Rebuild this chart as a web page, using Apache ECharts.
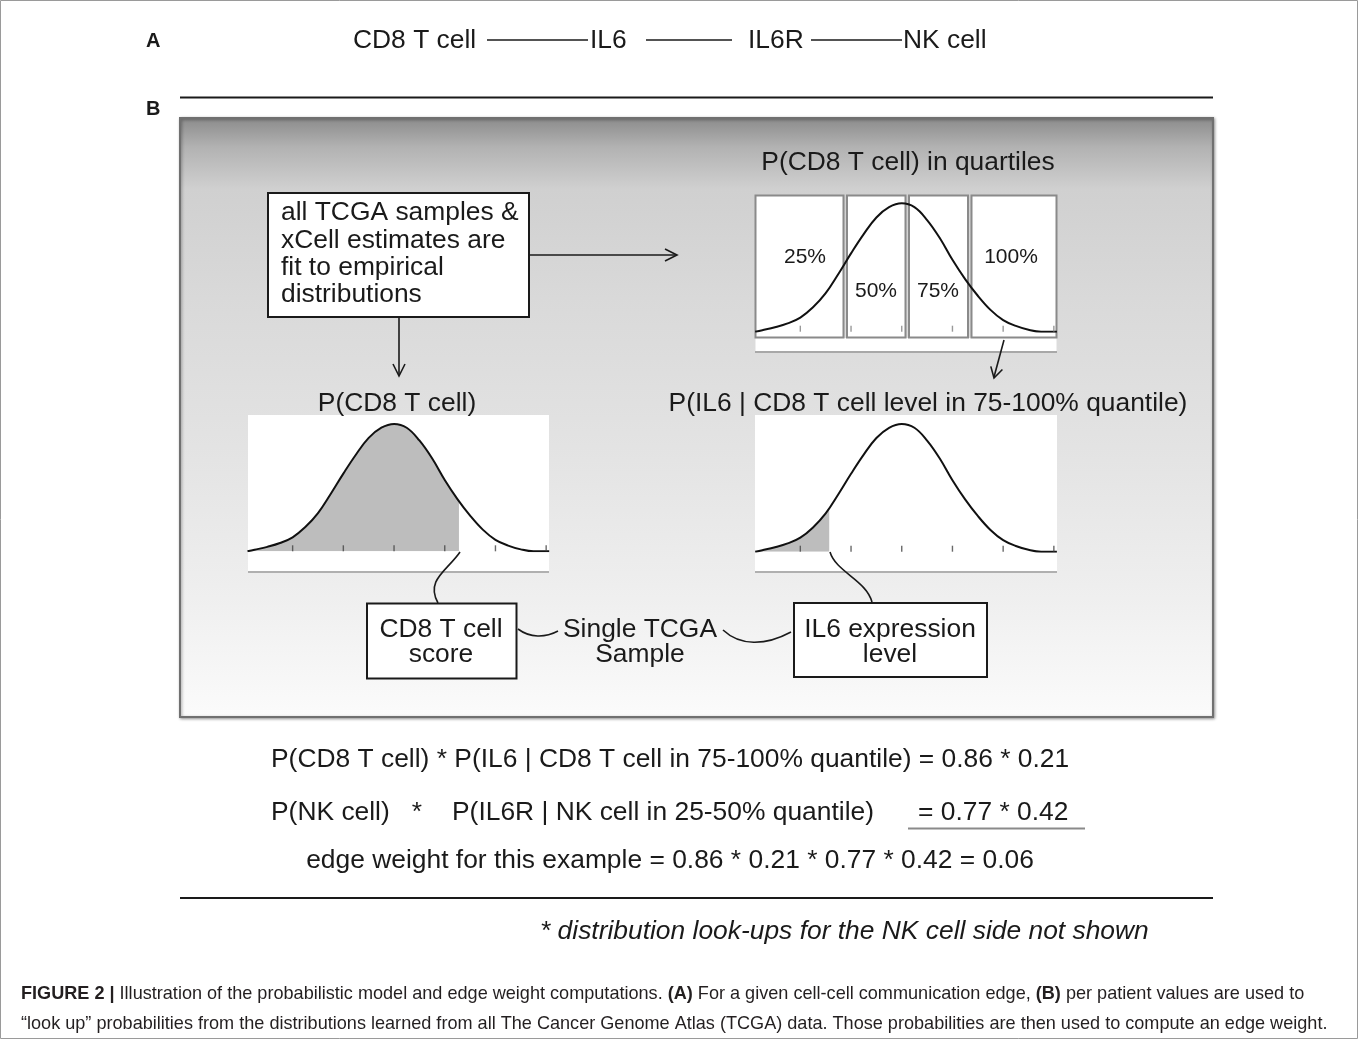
<!DOCTYPE html>
<html>
<head>
<meta charset="utf-8">
<script src="https://cdn.jsdelivr.net/npm/echarts@6/dist/echarts.min.js"></script>
<style>
html,body{margin:0;padding:0;background:#fff;}
#chart{width:1358px;height:1039px;}
</style>
</head>
<body>
<div id="chart"></div>
<script>
// ---- data ----
// x positions of the density curve (in units of the tick spacing, 0 = peak)
const curveX = [-2.89, -2.75, -2.5, -2.25, -2.0, -1.75, -1.5, -1.25, -1.0, -0.75, -0.5, -0.25, 0.0,
                0.25, 0.5, 0.75, 1.0, 1.25, 1.5, 1.75, 2.0, 2.25, 2.5, 2.75, 3.06];
// relative density heights (peak = 1)
const curveY = [0.0, 0.012, 0.035, 0.065, 0.11, 0.19, 0.30, 0.45, 0.61, 0.76, 0.89, 0.97, 1.0,
                0.97, 0.87, 0.73, 0.56, 0.41, 0.28, 0.17, 0.09, 0.045, 0.015, 0.0, 0.0];
const tickValues = [-2, -1, 0, 1, 2, 3];
// shaded cut-offs: [x, height]
const cd8Cut = [1.28, 0.39];
const il6Cut = [-1.43, 0.34];
const quartileLabels = ['25%', '50%', '75%', '100%'];
const chainNodes = ['CD8 T cell', 'IL6', 'IL6R', 'NK cell'];
const eqLine1 = 'P(CD8 T cell) * P(IL6 | CD8 T cell in 75-100% quantile) = 0.86 * 0.21';
const eqLine2a = 'P(NK cell)';
const eqLine2b = 'P(IL6R | NK cell in 25-50% quantile)';
const eqLine2c = '= 0.77 * 0.42';
const eqLine3 = 'edge weight for this example = 0.86 * 0.21 * 0.77 * 0.42 = 0.06';
const footnote = '* distribution look-ups for the NK cell side not shown';

const FONT = '"Liberation Sans", Arial, Helvetica, sans-serif';
const FS = 26.4;
const curve = curveX.map((x, i) => [x, curveY[i]]);
const ticks = tickValues.map(v => [v, 0]);
function shaded(cut) {
  const d = curve.filter(p => p[0] < cut[0]);
  d.push(cut);
  return d;
}

function txt(x, y, s, opt) {
  const st = Object.assign({
    text: s, fontFamily: FONT, fontSize: FS, fill: '#1a1a1a',
    align: 'left', verticalAlign: 'middle', textAlign: 'left', textVerticalAlign: 'middle'
  }, opt || {});
  if (st.align !== st.textAlign) { st.textAlign = st.align; }
  return { type: 'text', x: x, y: y, z: 20, style: st };
}
function ctxt(x, y, s, opt) { return txt(x, y, s, Object.assign({ align: 'center' }, opt || {})); }
function ln(x1, y1, x2, y2, stroke, w, z) {
  return { type: 'line', z: z || 5, shape: { x1, y1, x2, y2 }, style: { stroke: stroke, lineWidth: w } };
}
function pl(points, stroke, w) {
  return { type: 'polyline', z: 6, shape: { points: points }, style: { stroke: stroke, lineWidth: w, fill: 'none' } };
}
function box(x, y, w, h, fill, stroke, lw, z) {
  return { type: 'rect', z: z || 3, shape: { x, y, width: w, height: h }, style: { fill: fill, stroke: stroke, lineWidth: lw } };
}
function bez(x1, y1, cpx1, cpy1, cpx2, cpy2, x2, y2) {
  return { type: 'bezierCurve', z: 6, shape: { x1, y1, cpx1, cpy1, cpx2, cpy2, x2, y2 }, style: { stroke: '#1a1a1a', lineWidth: 1.6, fill: 'none' } };
}

const graphics = [
  // outer frame
  box(0.5, 0.5, 1357, 1038, 'none', '#9a9a9a', 1, 1),
  // panel letters
  txt(146, 41, 'A', { fontWeight: 'bold', fontSize: 20 }),
  txt(146, 109.5, 'B', { fontWeight: 'bold', fontSize: 20 }),
  // panel A chain
  txt(353, 41, chainNodes[0]),
  ln(487, 40, 588, 40, '#1a1a1a', 1.6),
  txt(590, 41, chainNodes[1]),
  ln(646, 40, 732, 40, '#1a1a1a', 1.6),
  txt(748, 41, chainNodes[2]),
  ln(811, 40, 902, 40, '#1a1a1a', 1.6),
  txt(903, 41, chainNodes[3]),
  // rule under A
  ln(180, 97.5, 1213, 97.5, '#1a1a1a', 2),
  // panel B background
  {
    type: 'rect', z: 1, shape: { x: 180, y: 118, width: 1033, height: 599 },
    style: {
      fill: { type: 'linear', x: 0, y: 0, x2: 0, y2: 1, colorStops: [
        { offset: 0, color: '#8a8a8a' }, { offset: 0.05, color: '#b2b2b2' }, { offset: 0.12, color: '#d0d0d0' },
        { offset: 0.3, color: '#d9d9d9' }, { offset: 0.55, color: '#e3e3e3' }, { offset: 0.8, color: '#efefef' },
        { offset: 1, color: '#fbfbfb' } ] },
      stroke: '#707070', lineWidth: 2, shadowBlur: 3, shadowColor: 'rgba(0,0,0,0.35)', shadowOffsetX: 1, shadowOffsetY: 1
    }
  },
  // title of quartile chart
  ctxt(908, 163, 'P(CD8 T cell) in quartiles'),
  // TCGA box
  box(268, 193, 261, 124, '#ffffff', '#1a1a1a', 2, 3),
  txt(281, 213, 'all TCGA samples &'),
  txt(281, 240.3, 'xCell estimates are'),
  txt(281, 267.6, 'fit to empirical'),
  txt(281, 295, 'distributions'),
  // arrows from box
  ln(529, 255, 676, 255, '#1a1a1a', 1.6),
  pl([[665, 249], [677, 255], [665, 261]], '#1a1a1a', 1.6),
  ln(399, 317, 399, 375, '#1a1a1a', 1.6),
  pl([[393, 364], [399, 376], [405, 364]], '#1a1a1a', 1.6),
  // quartile boxes
  box(755.5, 338, 301, 14, '#ffffff', null, 0, 2),
  ln(755, 352, 1057, 352, '#a8a8a8', 2, 2),
  box(755.5, 195.5, 88, 142, '#ffffff', '#8a8a8a', 2, 3),
  box(847, 195.5, 58.5, 142, '#ffffff', '#8a8a8a', 2, 3),
  box(909, 195.5, 59, 142, '#ffffff', '#8a8a8a', 2, 3),
  box(971.5, 195.5, 85, 142, '#ffffff', '#8a8a8a', 2, 3),
  ctxt(805, 257.5, quartileLabels[0], { fontSize: 21 }),
  ctxt(876, 291, quartileLabels[1], { fontSize: 21 }),
  ctxt(938, 291, quartileLabels[2], { fontSize: 21 }),
  ctxt(1011, 257.5, quartileLabels[3], { fontSize: 21 }),
  // arrow from quartile chart to conditional chart
  ln(1004, 340, 994, 377, '#1a1a1a', 1.6),
  pl([[990.8, 366.4], [994, 378], [1002.4, 369.5]], '#1a1a1a', 1.6),
  // distribution titles
  ctxt(397, 404, 'P(CD8 T cell)'),
  ctxt(928, 404, 'P(IL6 | CD8 T cell level in 75-100% quantile)'),
  // white chart panels
  box(248, 415, 301, 157, '#ffffff', null, 0, 2),
  ln(248, 572, 549, 572, '#b0b0b0', 2, 2),
  box(755, 415, 302, 157, '#ffffff', null, 0, 2),
  ln(755, 572, 1057, 572, '#b0b0b0', 2, 2),
  // connector curves
  bez(460, 552, 448, 570, 425, 580, 438, 603),
  bez(830, 552, 836, 572, 866, 580, 872, 602),
  // bottom boxes
  box(367, 603.5, 149.5, 75, '#ffffff', '#1a1a1a', 2, 3),
  ctxt(441, 629.5, 'CD8 T cell'),
  ctxt(441, 655, 'score'),
  ctxt(640, 629.5, 'Single TCGA'),
  ctxt(640, 655, 'Sample'),
  box(794, 603, 193, 74, '#ffffff', '#1a1a1a', 2, 3),
  ctxt(890, 629.5, 'IL6 expression'),
  ctxt(890, 655, 'level'),
  bez(518, 629, 530, 638, 545, 638, 558, 631),
  bez(723, 630, 740, 646, 765, 646, 791, 632),
  // equations
  txt(271, 760, eqLine1),
  txt(271, 813, eqLine2a),
  ctxt(417, 813, '*'),
  txt(452, 813, eqLine2b),
  txt(918, 813, eqLine2c),
  ln(908, 828.5, 1085, 828.5, '#8a8a8a', 2),
  ctxt(670, 861, eqLine3),
  ln(180, 898, 1213, 898, '#1a1a1a', 2),
  txt(540, 932, footnote, { fontStyle: 'italic' }),
  // caption
  txt(21, 994, '{b|FIGURE 2 |} Illustration of the probabilistic model and edge weight computations. {b|(A)} For a given cell-cell communication edge, {b|(B)} per patient values are used to',
      { fontSize: 18.1, fill: '#231f20', rich: { b: { fontWeight: 'bold', fontSize: 18.1, fontFamily: FONT, fill: '#231f20' } } }),
  txt(21, 1024, '\u201clook up\u201d probabilities from the distributions learned from all The Cancer Genome Atlas (TCGA) data. Those probabilities are then used to compute an edge weight.',
      { fontSize: 18.1, fill: '#231f20' })
];

function xAx(gi, axisColor) {
  return {
    type: 'value', gridIndex: gi, min: -2.89, max: 3.06, show: true,
    axisLine: { show: true, onZero: false, lineStyle: { color: axisColor, width: 1.5 } },
    axisTick: { show: false },
    axisLabel: { show: false }, splitLine: { show: false }
  };
}
function yAx(gi, max) {
  return { type: 'value', gridIndex: gi, min: 0, max: max, show: false, splitLine: { show: false } };
}
const lineSeries = (xi, data) => ({
  type: 'line', xAxisIndex: xi, yAxisIndex: xi, data: data, smooth: 0.4, symbol: 'none', z: 4,
  lineStyle: { color: '#111', width: 2 }, silent: true, animation: false
});
const areaSeries = (xi, data) => ({
  type: 'line', xAxisIndex: xi, yAxisIndex: xi, data: data, smooth: 0.4, symbol: 'none', z: 3,
  lineStyle: { width: 0, color: '#bdbdbd' }, areaStyle: { color: '#bdbdbd', opacity: 1 }, silent: true, animation: false
});
const tickSeries = (xi, color) => ({
  type: 'scatter', xAxisIndex: xi, yAxisIndex: xi, data: ticks, symbol: 'rect', symbolSize: [1.4, 6],
  symbolOffset: [0, -3], itemStyle: { color: color }, z: 5, silent: true, animation: false, clip: false
});

const option = {
  animation: false,
  backgroundColor: '#ffffff',
  grid: [
    { left: 755.2, top: 195, width: 301.7, height: 136.7 },
    { left: 247.5, top: 415, width: 301.7, height: 136.3 },
    { left: 755.2, top: 415, width: 301.7, height: 136.7 }
  ],
  xAxis: [xAx(0, '#808080'), xAx(1, '#333333'), xAx(2, '#333333')],
  yAxis: [yAx(0, 1.065), yAx(1, 1.07), yAx(2, 1.07)],
  series: [
    lineSeries(0, curve),
    tickSeries(0, '#808080'),
    areaSeries(1, shaded(cd8Cut)),
    lineSeries(1, curve),
    tickSeries(1, '#444444'),
    areaSeries(2, shaded(il6Cut)),
    lineSeries(2, curve),
    tickSeries(2, '#444444')
  ],
  graphic: { elements: graphics }
};

const chart = echarts.init(document.getElementById('chart'), null, { renderer: 'canvas' });
chart.setOption(option);
</script>
</body>
</html>
